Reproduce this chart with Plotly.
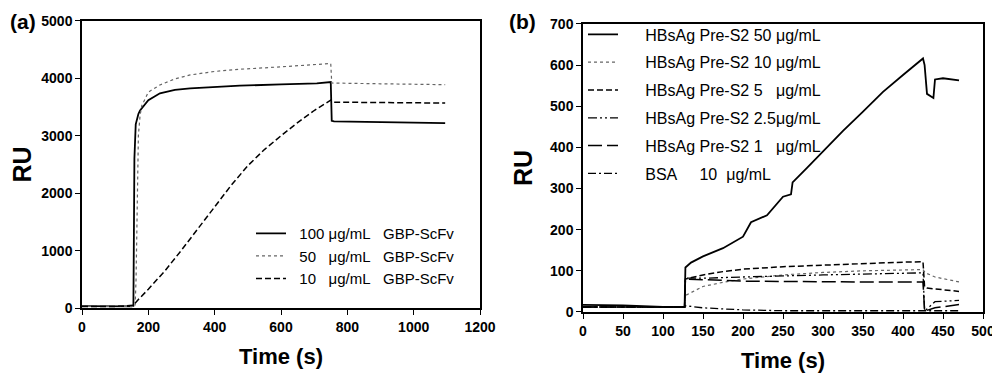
import plotly.graph_objects as go

# ---- panel (a): GBP-ScFv sensorgrams ----
a_t_100 = [0, 50, 100, 150, 155, 156, 158, 162, 170, 175, 200, 235, 280, 326, 400, 476, 600, 708, 750, 753, 760, 850, 1000, 1095]
a_v_100 = [35, 32, 30, 30, 40, 1000, 2600, 3200, 3380, 3440, 3620, 3740, 3800, 3827, 3852, 3872, 3895, 3914, 3935, 3260, 3250, 3240, 3230, 3222]
a_t_50 = [0, 100, 160, 163, 166, 170, 175, 180, 200, 235, 280, 326, 400, 476, 600, 708, 750, 753, 760, 900, 1095]
a_v_50 = [30, 30, 30, 500, 2000, 3000, 3350, 3520, 3760, 3885, 3990, 4059, 4120, 4158, 4200, 4233, 4258, 3920, 3918, 3905, 3890]
a_t_10 = [0, 100, 155, 170, 200, 250, 300, 350, 400, 450, 500, 550, 600, 650, 700, 750, 760, 900, 1095]
a_v_10 = [30, 30, 50, 150, 330, 650, 1010, 1380, 1760, 2140, 2480, 2760, 3000, 3230, 3440, 3620, 3585, 3578, 3570]

# ---- panel (b): HBsAg Pre-S2 sensorgrams ----
b_t_50 = [0, 50, 100, 127, 128, 135, 150, 175, 200, 210, 230, 240, 250, 260, 262, 280, 300, 325, 350, 375, 400, 425, 427, 430, 438, 440, 450, 470]
b_v_50 = [17, 16, 12, 12, 108, 120, 135, 155, 183, 218, 235, 258, 280, 286, 315, 350, 390, 440, 487, 535, 576, 616, 600, 530, 520, 565, 568, 563]
b_t_10 = [0, 127, 128, 150, 175, 200, 250, 300, 350, 400, 425, 428, 440, 470]
b_v_10 = [12, 12, 40, 62, 72, 80, 90, 96, 100, 103, 103, 95, 85, 73]
b_t_5 = [0, 127, 128, 150, 175, 200, 250, 300, 350, 400, 425, 427, 430, 470]
b_v_5 = [12, 12, 80, 90, 98, 104, 110, 114, 118, 121, 122, 60, 58, 50]
b_t_25 = [0, 127, 128, 150, 200, 250, 300, 350, 400, 425, 427, 440, 470]
b_v_25 = [12, 12, 82, 82, 85, 88, 90, 92, 94, 95, 2, 25, 28]
b_t_1 = [0, 127, 128, 150, 200, 250, 300, 350, 400, 425, 427, 440, 470]
b_v_1 = [12, 12, 80, 78, 75, 74, 73, 73, 73, 73, 2, 10, 18]
b_t_bsa = [0, 127, 128, 150, 200, 250, 300, 350, 400, 425, 470]
b_v_bsa = [12, 12, 15, 10, 5, 3, 3, 3, 3, 3, 3]

FONT = "Liberation Sans, Arial, sans-serif"
SP = "\u00a0"

fig = go.Figure()

fig.add_trace(go.Scatter(x=a_t_100, y=a_v_100, mode="lines", name=SP * 2 + "100 μg/mL" + SP * 3 + "GBP-ScFv",
    line=dict(color="black", width=1.8), xaxis="x", yaxis="y", legend="legend", legendgroup="a1"))
fig.add_trace(go.Scatter(x=a_t_50, y=a_v_50, mode="lines", name=SP * 2 + "50" + SP * 3 + "μg/mL" + SP * 3 + "GBP-ScFv",
    line=dict(color="#666666", width=1.2, dash="dot"), xaxis="x", yaxis="y", legend="legend", legendgroup="a2"))
fig.add_trace(go.Scatter(x=a_t_10, y=a_v_10, mode="lines", name=SP * 2 + "10" + SP * 3 + "μg/mL" + SP * 3 + "GBP-ScFv",
    line=dict(color="black", width=1.5, dash="6px,3px"), xaxis="x", yaxis="y", legend="legend", legendgroup="a3"))

b_series = [
    (b_t_50, b_v_50, "HBsAg Pre-S2 50 μg/mL", dict(color="black", width=1.8)),
    (b_t_10, b_v_10, "HBsAg Pre-S2 10 μg/mL", dict(color="#666666", width=1.2, dash="dot")),
    (b_t_5, b_v_5, "HBsAg Pre-S2 5" + SP * 3 + "μg/mL", dict(color="black", width=1.5, dash="6px,3px")),
    (b_t_25, b_v_25, "HBsAg Pre-S2 2.5μg/mL", dict(color="black", width=1.3, dash="9px,3px,2px,3px,2px,3px")),
    (b_t_1, b_v_1, "HBsAg Pre-S2 1" + SP * 3 + "μg/mL", dict(color="black", width=1.5, dash="14px,5px")),
    (b_t_bsa, b_v_bsa, "BSA" + SP * 5 + "10" + SP * 2 + "μg/mL", dict(color="black", width=1.3, dash="8px,3px,2px,3px")),
]
for i, (t, v, nm, ln) in enumerate(b_series):
    fig.add_trace(go.Scatter(x=t, y=v, mode="lines", name=SP * 5 + nm, line=ln,
        xaxis="x2", yaxis="y2", legend="legend2", legendgroup="b%d" % i))

ax_common = dict(showline=True, linecolor="black", linewidth=1.5, mirror=True, automargin=False,
                 ticks="outside", ticklen=5, tickcolor="black", showgrid=False, zeroline=False,
                 tickfont=dict(family=FONT, size=14, color="black", weight="bold"))

# page body has an 8px margin, so domains are shifted to compensate
fig.update_layout(
    width=1000, height=379,
    margin=dict(l=0, r=0, t=0, b=0),
    plot_bgcolor="white", paper_bgcolor="white",
    xaxis=dict(domain=[0.074, 0.472], anchor="y", range=[0, 1200], dtick=200,
               title=dict(text="Time (s)", font=dict(family=FONT, size=22, color="black", weight="bold"), standoff=15),
               **ax_common),
    yaxis=dict(domain=[0.208, 0.966], anchor="x", range=[0, 5000], dtick=1000,
               title=dict(text="RU", font=dict(family=FONT, size=25, color="black", weight="bold"), standoff=7),
               **ax_common),
    xaxis2=dict(domain=[0.575, 0.975], anchor="y2", range=[0, 500], dtick=50,
                title=dict(text="Time (s)", font=dict(family=FONT, size=22, color="black", weight="bold"), standoff=15),
                **ax_common),
    yaxis2=dict(domain=[0.198, 0.958], anchor="x2", range=[0, 700], dtick=100,
                title=dict(text="RU", font=dict(family=FONT, size=25, color="black", weight="bold"), standoff=10),
                **ax_common),
    legend=dict(x=0.243, y=0.448, xanchor="left", yanchor="top", bgcolor="rgba(0,0,0,0)",
                font=dict(family=FONT, size=15, color="black"), tracegroupgap=0),
    legend2=dict(x=0.575, y=0.975, xanchor="left", yanchor="top", bgcolor="rgba(0,0,0,0)",
                 font=dict(family=FONT, size=16, color="black"), tracegroupgap=4),
    annotations=[
        dict(text="(a)", x=0.0, y=1.0, xref="paper", yref="paper", xanchor="left", yanchor="top",
             showarrow=False, font=dict(family=FONT, size=21, color="black", weight="bold")),
        dict(text="(b)", x=0.499, y=1.0, xref="paper", yref="paper", xanchor="left", yanchor="top",
             showarrow=False, font=dict(family=FONT, size=21, color="black", weight="bold")),
    ],
)

fig.write_html("out.html")
